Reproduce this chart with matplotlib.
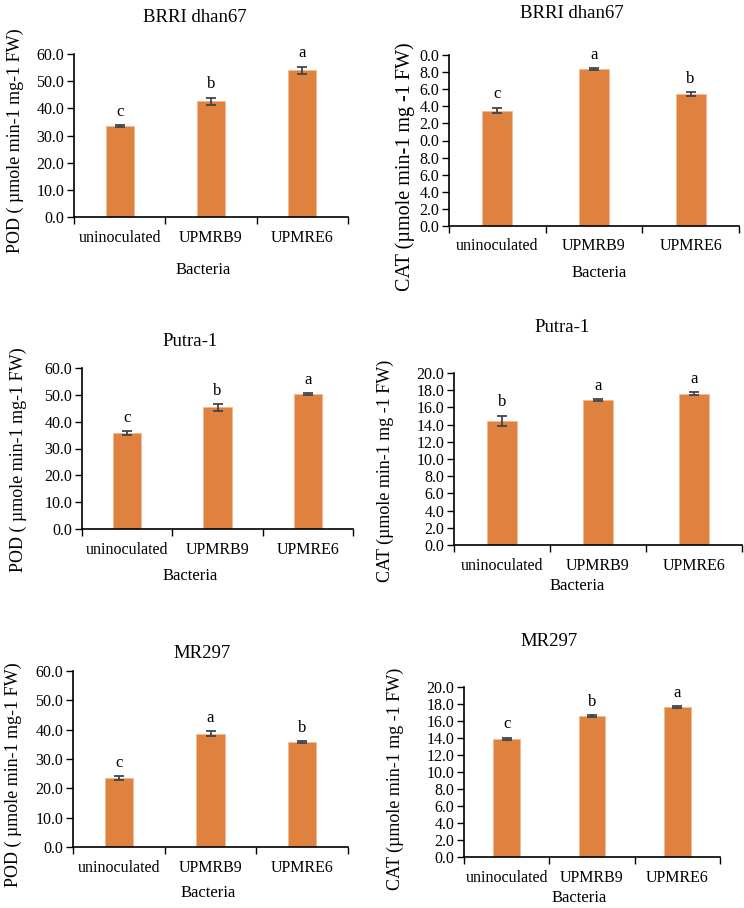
import matplotlib
matplotlib.use("Agg")
import matplotlib.pyplot as plt
import numpy as np

plt.rcParams['font.family'] = ['Liberation Serif', 'DejaVu Serif']

categories = ["uninoculated", "UPMRB9", "UPMRE6"]

titles = ["BRRI dhan67", "BRRI dhan67", "Putra-1", "Putra-1", "MR297", "MR297"]
ylabels = ["POD ( µmole min-1 mg-1 FW)", "CAT (µmole min-1 mg -1 FW)",
           "POD ( µmole min-1 mg-1 FW)", "CAT (µmole min-1 mg -1 FW)",
           "POD ( µmole min-1 mg-1 FW)", "CAT (µmole min-1 mg -1 FW)"]

pod_brri = [33.4, 42.6, 54.0]
pod_brri_err = [0.3, 1.2, 1.2]
cat_brri = [13.5, 18.35, 15.4]
cat_brri_err = [0.3, 0.1, 0.25]
pod_putra = [35.7, 45.3, 50.2]
pod_putra_err = [0.7, 1.2, 0.3]
cat_putra = [14.4, 16.85, 17.6]
cat_putra_err = [0.6, 0.1, 0.15]
pod_mr = [23.5, 38.6, 35.7]
pod_mr_err = [0.6, 0.8, 0.3]
cat_mr = [13.9, 16.55, 17.65]
cat_mr_err = [0.15, 0.1, 0.1]

letters_pod_brri = ["c", "b", "a"]
letters_cat_brri = ["c", "a", "b"]
letters_pod_putra = ["c", "b", "a"]
letters_cat_putra = ["b", "a", "a"]
letters_pod_mr = ["c", "a", "b"]
letters_cat_mr = ["c", "b", "a"]

pod_ticks = [0, 10, 20, 30, 40, 50, 60]
cat_ticks = [0, 2, 4, 6, 8, 10, 12, 14, 16, 18, 20]
cat_brri_ticklabels = ["0.0", "2.0", "4.0", "6.0", "8.0", "0.0", "2.0", "4.0", "6.0", "8.0", "0.0"]

values = [pod_brri, cat_brri, pod_putra, cat_putra, pod_mr, cat_mr]
errors = [pod_brri_err, cat_brri_err, pod_putra_err, cat_putra_err, pod_mr_err, cat_mr_err]
letters = [letters_pod_brri, letters_cat_brri, letters_pod_putra, letters_cat_putra,
           letters_pod_mr, letters_cat_mr]

W, H = 744, 908
fig = plt.figure(figsize=(W / 100, H / 100), dpi=100)

layout = [
    dict(l=74, r=348, t=54, b=217, title=(195, 17), xl=(203, 270), yl=(15, 141), ylfs=13),
    dict(l=449, r=739, t=55, b=226, title=(572, 13), xl=(599, 273), yl=(405, 167), ylfs=14.5),
    dict(l=82, r=353, t=368, b=529, title=(190, 342), xl=(190, 576), yl=(18, 460), ylfs=13),
    dict(l=454, r=742, t=373, b=545, title=(562, 327), xl=(577, 586), yl=(385, 471), ylfs=13),
    dict(l=73, r=348, t=671, b=847, title=(202, 653), xl=(208, 893), yl=(13, 775), ylfs=13),
    dict(l=464, r=720, t=687, b=857, title=(549, 642), xl=(579, 898), yl=(395, 779), ylfs=13),
]

bar_color = "#E0823F"
err_color = "#3C4650"

def fx(x):
    return x / W

def fy(y):
    return 1 - y / H

for i in range(6):
    L = layout[i]
    ax = fig.add_axes([fx(L['l']), fy(L['b']), (L['r'] - L['l']) / W, (L['b'] - L['t']) / H])
    x = np.arange(len(categories))
    ax.bar(x, values[i], width=0.31, color=bar_color, edgecolor="#F2B890", linewidth=0.6, zorder=2)
    ax.errorbar(x, values[i], yerr=errors[i], fmt='none', ecolor=err_color,
                elinewidth=1.3, capsize=3.5, capthick=1.3, zorder=3)
    is_pod = (i % 2 == 0)
    ymax = 60 if is_pod else 20
    ax.set_ylim(0, ymax)
    ax.set_xlim(-0.5, 2.5)
    ticks = pod_ticks if is_pod else cat_ticks
    ax.set_yticks(ticks)
    if i == 1:
        ax.set_yticklabels(cat_brri_ticklabels)
    else:
        ax.set_yticklabels([f"{t:.1f}" for t in ticks])
    ax.set_xticks(x)
    ax.set_xticklabels(categories)
    ax.set_xticks([-0.5, 0.5, 1.5, 2.5], minor=True)
    ax.tick_params(axis='x', which='major', length=0, labelsize=11.5, pad=9)
    ax.tick_params(axis='x', which='minor', length=5, width=1, direction='out')
    ax.tick_params(axis='y', which='major', length=5, width=1, direction='out', labelsize=11.5, pad=2)
    for s in ['top', 'right']:
        ax.spines[s].set_visible(False)
    for s in ['left', 'bottom']:
        ax.spines[s].set_linewidth(1.2)
    for xi, v, e, lt in zip(x, values[i], errors[i], letters[i]):
        ax.annotate(lt, (xi, v + e), xytext=(0, 4), textcoords='offset points',
                    ha='center', va='bottom', fontsize=12)
    fig.text(fx(L['title'][0]), fy(L['title'][1]), titles[i], ha='center', va='center', fontsize=13.5)
    fig.text(fx(L['xl'][0]), fy(L['xl'][1]), "Bacteria", ha='center', va='center', fontsize=12)
    fig.text(fx(L['yl'][0]), fy(L['yl'][1]), ylabels[i], ha='center', va='center',
             rotation=90, fontsize=L['ylfs'])

fig.savefig("out.png", dpi=100, facecolor="white")
